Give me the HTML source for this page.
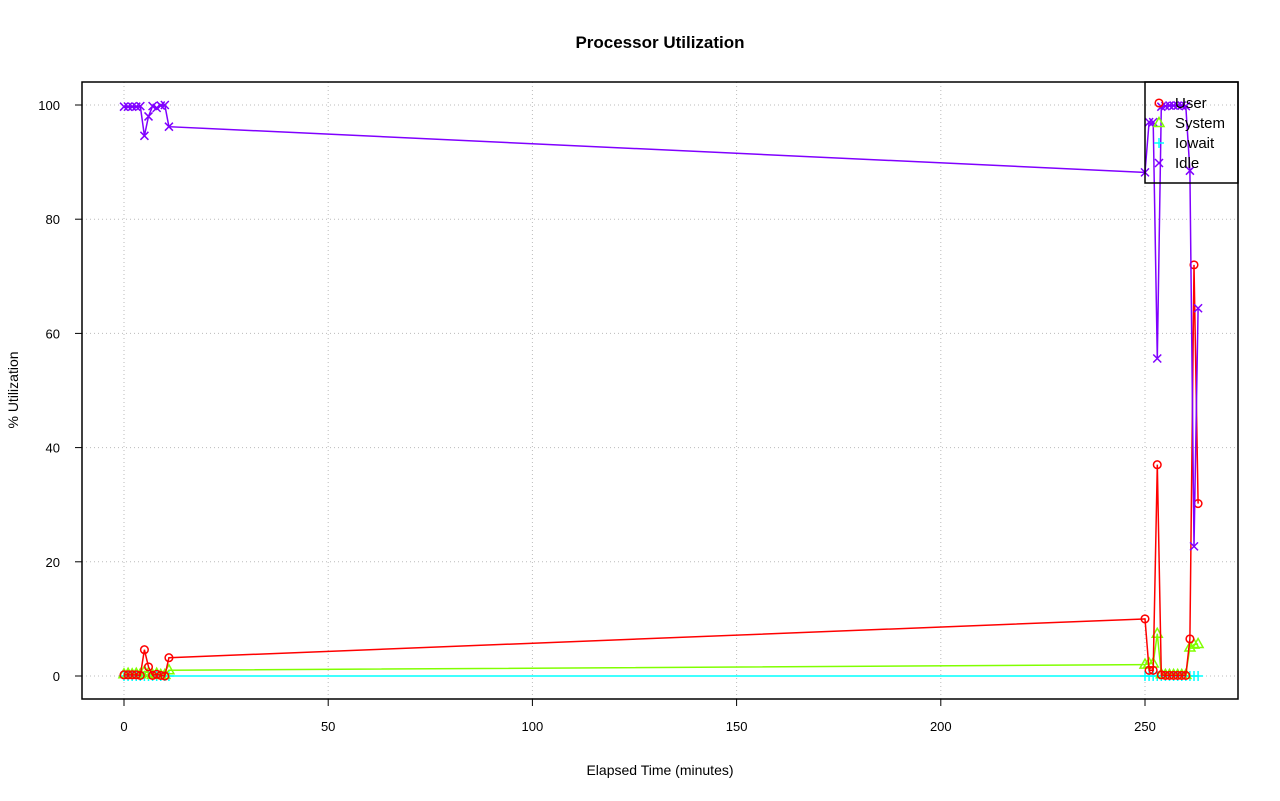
<!DOCTYPE html>
<html><head><meta charset="utf-8"><style>body{margin:0;background:#fff}svg{display:block;font-family:"Liberation Sans",sans-serif}</style></head>
<body>
<svg id="s" width="1280" height="801" xmlns="http://www.w3.org/2000/svg"></svg>
<script>
const X=v=>124+v*4.084, Y=v=>676-v*5.71;
let h='';
h+='<text x="660" y="48" text-anchor="middle" font-size="17" font-weight="bold">Processor Utilization</text>';
h+='<text x="660" y="775" text-anchor="middle" font-size="14">Elapsed Time (minutes)</text>';
h+='<text transform="translate(18,390) rotate(-90)" text-anchor="middle" font-size="14">% Utilization</text>';
for(let v=0;v<=250;v+=50){h+=`<line x1="${X(v)}" x2="${X(v)}" y1="82" y2="699" stroke="#bbb" stroke-dasharray="1,3"/>`;
h+=`<line x1="${X(v)}" x2="${X(v)}" y1="699" y2="706" stroke="#000"/><text x="${X(v)}" y="731" text-anchor="middle" font-size="13">${v}</text>`;}
for(let v=0;v<=100;v+=20){h+=`<line y1="${Y(v)}" y2="${Y(v)}" x1="82" x2="1238" stroke="#bbb" stroke-dasharray="1,3"/>`;
h+=`<line y1="${Y(v)}" y2="${Y(v)}" x1="75" x2="82" stroke="#000"/><text x="60" y="${Y(v)+5}" text-anchor="end" font-size="13">${v}</text>`;}
const xs=[0,1,2,3,4,5,6,7,8,9,10,11,250,251,252,253,254,255,256,257,258,259,260,261,262,263];
const idle=[99.7,99.7,99.7,99.7,99.8,94.6,98,99.8,99.5,99.9,100,96.2,88.2,97,97,55.6,99.7,99.8,99.9,99.9,99.9,99.9,99.8,88.5,22.7,64.4];
const user=[0.2,0.2,0.2,0.2,0.1,4.6,1.6,0.1,0.3,0.1,0,3.2,10,1,1,37,0.2,0.1,0.1,0.1,0.1,0.1,0.1,6.5,72,30.2];
const sys=[0.3,0.4,0.3,0.4,0.3,0.8,0.5,0.2,0.4,0.2,0.2,1,2,2.2,2.2,7.4,0.3,0.2,0.2,0.2,0.2,0.2,0.2,5,5.5,5.6];
const io=xs.map(()=>0);
function series(d,c,m){let p=xs.map((x,i)=>X(x).toFixed(1)+','+Y(d[i]).toFixed(1)).join(' ');
h+=`<polyline points="${p}" fill="none" stroke="${c}" stroke-width="1.5"/>`;
xs.forEach((x,i)=>h+=mk(X(x),Y(d[i]),c,m));}
function mk(x,y,c,m){if(m=='o')return `<circle cx="${x}" cy="${y}" r="3.8" fill="none" stroke="${c}" stroke-width="1.5"/>`;
if(m=='t')return `<polygon points="${x},${y-5.5} ${x-5},${y+3.5} ${x+5},${y+3.5}" fill="none" stroke="${c}" stroke-width="1.5"/>`;
if(m=='+')return `<path d="M${x-5},${y}h10M${x},${y-5}v10" stroke="${c}" stroke-width="1.5"/>`;
return `<path d="M${x-4},${y-4}l8,8M${x-4},${y+4}l8,-8" stroke="${c}" stroke-width="1.5"/>`;}
series(io,'#00FFFF','+');series(sys,'#80FF00','t');series(user,'#FF0000','o');series(idle,'#8000FF','x');
h+='<rect x="82" y="82" width="1156" height="617" fill="none" stroke="#000" stroke-width="1.5"/>';
h+='<rect x="1145" y="82" width="93" height="101" fill="none" stroke="#000" stroke-width="1.5"/>';
[['User','#FF0000','o'],['System','#80FF00','t'],['Iowait','#00FFFF','+'],['Idle','#8000FF','x']].forEach((l,i)=>{let y=103+i*20;
h+=mk(1159,y,l[1],l[2])+`<text x="1175" y="${y+5}" font-size="15">${l[0]}</text>`;});
document.getElementById('s').innerHTML=h;
</script>
</body></html>
